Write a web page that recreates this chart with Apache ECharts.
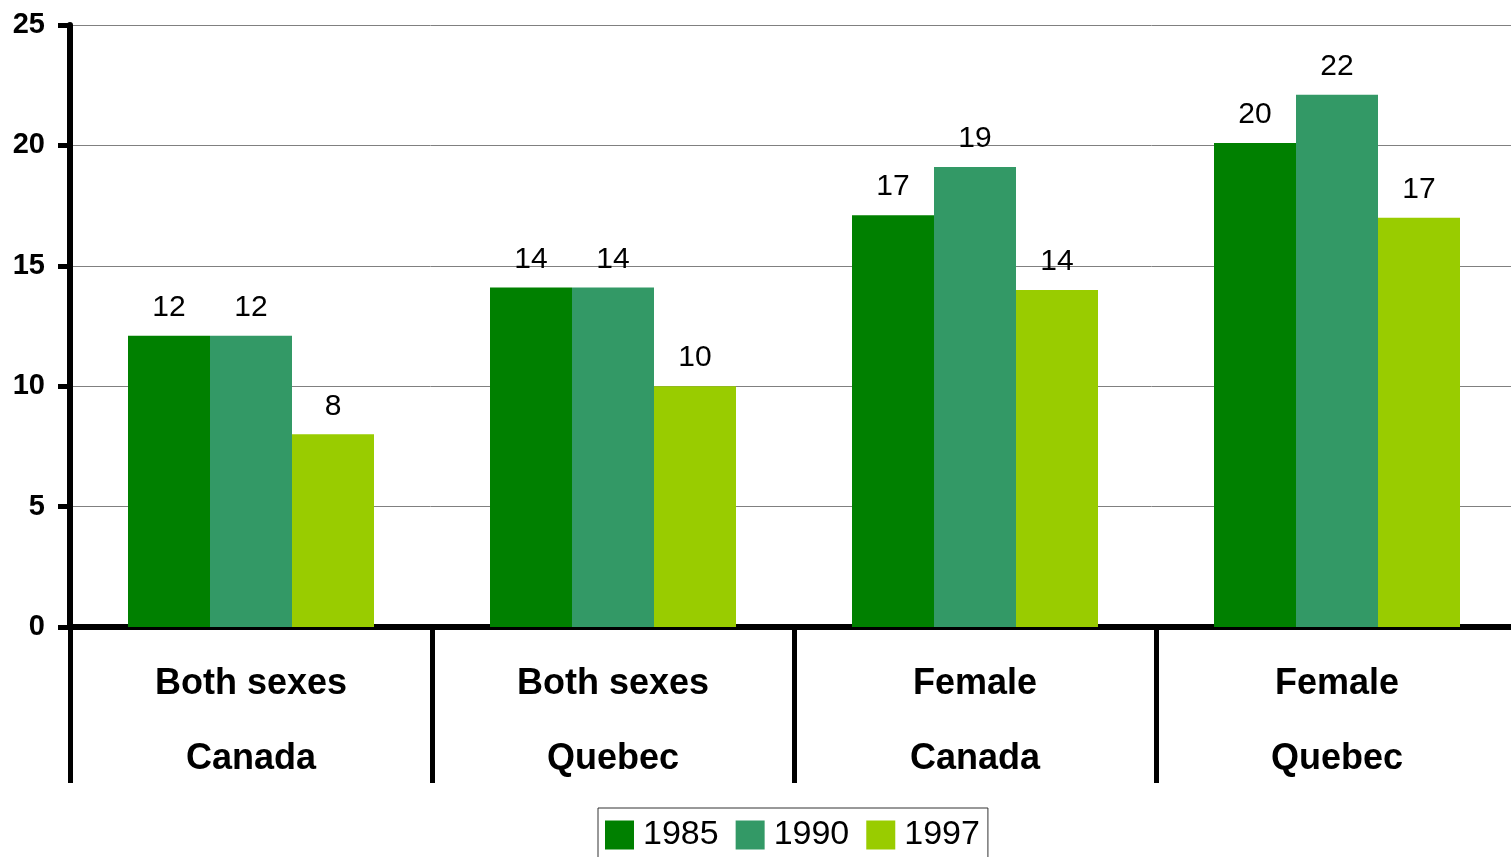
<!DOCTYPE html>
<html lang="en">

<head>
    <meta charset="UTF-8">
    <title>Bar chart</title>
    <script src="https://cdnjs.cloudflare.com/ajax/libs/echarts/6.0.0/echarts.min.js"></script>
    <style>
        html, body { margin: 0; padding: 0; background: #fff; overflow: hidden; }
    </style>
</head>

<body>
    <div id="main" style="width: 1511px;height:857px;"></div>
    <script>
        // data
        const categories = ["Both sexes\nCanada", "Both sexes\nQuebec", "Female\nCanada", "Female\nQuebec"];
        const years = ["1985", "1990", "1997"];
        const values1985 = [12.1, 14.1, 17.1, 20.1];
        const values1990 = [12.1, 14.1, 19.1, 22.1];
        const values1997 = [8.0, 10.0, 14.0, 17.0];
        const colors = ["#008000", "#339966", "#99CC00"];

        const chart = echarts.init(document.getElementById('main'));
        const font = "'Liberation Sans', Arial, sans-serif";

        function makeSeries(name, data, color) {
            return {
                name: name,
                type: 'bar',
                data: data,
                barWidth: 82,
                barGap: '0%',
                itemStyle: { color: color },
                label: {
                    show: true,
                    position: 'top',
                    distance: 13,
                    fontFamily: font,
                    fontSize: 30,
                    color: '#000',
                    formatter: (p) => Math.round(p.value)
                }
            };
        }

        let option = {
            animation: false,
            textStyle: { fontFamily: font },
            // plot runs a little past the right edge of the picture
            grid: { left: 70, right: -7, top: 25, bottom: 230, outerBoundsMode: 'none' },
            legend: {
                data: years,
                left: 598,
                top: 808,
                orient: 'horizontal',
                padding: [10, 8, 10, 7],
                borderColor: '#333',
                borderWidth: 1,
                itemWidth: 29,
                itemHeight: 29,
                itemGap: 17,
                icon: 'rect',
                textStyle: { fontFamily: font, fontSize: 34, color: '#000', padding: [0, 0, 0, 4] }
            },
            xAxis: {
                type: 'category',
                data: categories,
                axisLine: { lineStyle: { color: '#000', width: 6 } },
                axisTick: {
                    show: true,
                    interval: 0,
                    length: 156,
                    lineStyle: { color: '#000', width: 5 }
                },
                axisLabel: {
                    interval: 0,
                    margin: 20,
                    fontFamily: font,
                    fontSize: 36,
                    fontWeight: 'bold',
                    lineHeight: 75,
                    color: '#000'
                }
            },
            yAxis: {
                type: 'value',
                min: 0,
                max: 25,
                interval: 5,
                axisLine: { show: true, lineStyle: { color: '#000', width: 6 } },
                axisTick: { show: true, length: 12, lineStyle: { color: '#000', width: 5 } },
                axisLabel: {
                    margin: 25,
                    fontFamily: font,
                    fontSize: 29,
                    fontWeight: 'bold',
                    color: '#000'
                },
                splitLine: { lineStyle: { color: '#808080', width: 1 } }
            },
            series: [
                makeSeries(years[0], values1985, colors[0]),
                makeSeries(years[1], values1990, colors[1]),
                makeSeries(years[2], values1997, colors[2])
            ]
        };

        chart.setOption(option);
    </script>
</body>

</html>
